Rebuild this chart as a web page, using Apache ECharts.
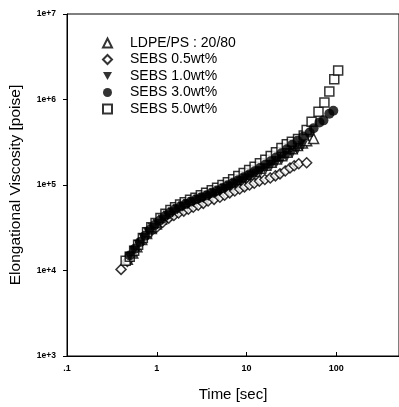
<!DOCTYPE html>
<html><head><meta charset="utf-8">
<script src="https://cdn.jsdelivr.net/npm/echarts@6/dist/echarts.min.js"></script>
<style>html,body{margin:0;padding:0;background:#fff}#c{width:399px;height:407px}</style>
</head><body><div id="c"></div>
<script>
// ---- data (time in sec, elongational viscosity in poise) ----
const seriesNames = ['LDPE/PS : 20/80', 'SEBS 0.5wt%', 'SEBS 1.0wt%', 'SEBS 3.0wt%', 'SEBS 5.0wt%'];

const ldpeTime = [0.47,0.54,0.6,0.68,0.77,0.87,0.99,1.13,1.28,1.46,1.66,1.9,2.17,2.48,2.85,3.25,3.7,4.25,4.85,5.55,6.35,7.25,8.3,9.5,10.9,12.5,14.3,16.4,18.8,21.5,24.6,28.2,32.3,37,42,46.8,55.9];
const ldpeVisc = [1.35e4,1.6e4,1.9e4,2.3e4,2.7e4,3.1e4,3.5e4,4.0e4,4.45e4,4.9e4,5.3e4,5.7e4,6.1e4,6.5e4,6.9e4,7.3e4,7.7e4,8.2e4,8.7e4,9.3e4,1.0e5,1.07e5,1.15e5,1.24e5,1.34e5,1.45e5,1.57e5,1.7e5,1.85e5,2.02e5,2.2e5,2.42e5,2.65e5,2.9e5,3.1e5,3.3e5,3.5e5];

const sebs05Time = [0.40,0.47,0.53,0.58,0.63,0.70,0.78,0.88,1.0,1.16,1.36,1.55,1.75,2.0,2.25,2.55,2.9,3.3,3.73,4.35,5.05,5.7,6.5,7.4,8.4,9.5,10.8,12.2,13.9,16.0,18.4,21.0,23.6,27.0,30.5,34.0,38.2,46.8];
const sebs05Visc = [1.03e4,1.28e4,1.54e4,1.78e4,2.02e4,2.32e4,2.65e4,2.95e4,3.2e4,3.65e4,4.1e4,4.4e4,4.7e4,4.95e4,5.2e4,5.5e4,5.8e4,6.1e4,6.5e4,6.8e4,7.2e4,7.6e4,8.1e4,8.5e4,9.0e4,9.5e4,1.0e5,1.05e5,1.11e5,1.16e5,1.21e5,1.28e5,1.35e5,1.46e5,1.58e5,1.68e5,1.77e5,1.82e5];

const sebs10Time = [0.5,0.56,0.63,0.71,0.8,0.9,1.02,1.16,1.32,1.5,1.7,1.95,2.22,2.55,2.9,3.3,3.8,4.35,5.0,5.7,6.5,7.45,8.5,9.7,11.1,12.7,14.5,16.6,19,21.7,24.8,28.4,32.5,37,42];
const sebs10Visc = [1.45e4,1.7e4,2.0e4,2.4e4,2.8e4,3.15e4,3.5e4,3.95e4,4.4e4,4.8e4,5.2e4,5.6e4,5.95e4,6.3e4,6.7e4,7.0e4,7.4e4,7.9e4,8.4e4,9.0e4,9.6e4,1.03e5,1.1e5,1.18e5,1.27e5,1.36e5,1.46e5,1.57e5,1.7e5,1.84e5,2.0e5,2.18e5,2.38e5,2.6e5,2.85e5];

const sebs30Time = [0.5,0.57,0.65,0.74,0.84,0.95,1.08,1.23,1.4,1.6,1.83,2.1,2.4,2.75,3.15,3.6,4.1,4.7,5.4,6.2,7.1,8.1,9.3,10.7,12.3,14.1,16.2,18.6,21.3,24.5,28.1,32.3,37,43,50.5,55.9,65,72,83.7,92.7];
const sebs30Visc = [1.5e4,1.8e4,2.15e4,2.55e4,3.0e4,3.4e4,3.85e4,4.3e4,4.75e4,5.2e4,5.6e4,6.0e4,6.4e4,6.8e4,7.2e4,7.6e4,8.1e4,8.6e4,9.2e4,9.9e4,1.06e5,1.14e5,1.23e5,1.33e5,1.45e5,1.58e5,1.73e5,1.9e5,2.1e5,2.35e5,2.62e5,2.95e5,3.3e5,3.7e5,4.1e5,4.6e5,5.4e5,5.7e5,6.8e5,7.4e5];

const sebs50Time = [0.45,0.5,0.56,0.62,0.7,0.78,0.87,0.97,1.1,1.25,1.42,1.6,1.82,2.05,2.35,2.7,3.1,3.55,4.1,4.7,5.4,6.2,7.1,8.1,9.3,10.7,12.3,14.1,16.2,18.6,21.3,24.5,28.1,32,37.5,43.4,46.8,53.1,63.4,73.8,83.7,95,105];
const sebs50Visc = [1.3e4,1.45e4,1.7e4,2.0e4,2.4e4,2.8e4,3.2e4,3.6e4,4.1e4,4.6e4,5.1e4,5.5e4,5.9e4,6.3e4,6.7e4,7.1e4,7.6e4,8.1e4,8.7e4,9.3e4,1.0e5,1.08e5,1.17e5,1.27e5,1.38e5,1.5e5,1.64e5,1.8e5,1.98e5,2.18e5,2.42e5,2.7e5,3.0e5,3.2e5,3.45e5,3.8e5,4.4e5,5.5e5,7.2e5,9.2e5,1.24e6,1.72e6,2.19e6];

const xTickLabels = {'0.1': '.1', '1': '1', '10': '10', '100': '100'};

// ---- chart ----
function pairs(t, v) { return t.map((x, i) => [x, v[i]]); }
const invTri = 'path://M0,0L10,0L5,9Z';
const openStyle = {color: '#ffffff', borderColor: '#000000', borderWidth: 1.5};
const fillStyle = {color: '#000000', borderColor: '#000000', borderWidth: 0};

const defs = [
  {name: seriesNames[0], data: pairs(ldpeTime, ldpeVisc), symbol: 'triangle', style: openStyle, size: 10, z: 2},
  {name: seriesNames[1], data: pairs(sebs05Time, sebs05Visc), symbol: 'diamond', style: openStyle, size: 10, z: 2},
  {name: seriesNames[2], data: pairs(sebs10Time, sebs10Visc), symbol: invTri, style: fillStyle, size: 10, z: 3},
  {name: seriesNames[3], data: pairs(sebs30Time, sebs30Visc), symbol: 'circle', style: fillStyle, size: 10, z: 3},
  {name: seriesNames[4], data: pairs(sebs50Time, sebs50Visc), symbol: 'rect', style: openStyle, size: 9, z: 2}
];

const chart = echarts.init(document.getElementById('c'), null, {renderer: 'canvas'});
const font = 'Liberation Sans, Arial, sans-serif';
chart.setOption({
  animation: false,
  backgroundColor: '#ffffff',
  grid: {left: 67, top: 14, right: -5, bottom: 50, show: true, borderColor: '#000', borderWidth: 1},
  legend: {
    orient: 'vertical', left: 97, top: 31,
    itemWidth: 9, itemHeight: 9, itemGap: 2.5,
    data: seriesNames,
    textStyle: {fontFamily: font, fontSize: 14, color: '#000', lineHeight: 14, padding: [0, 0, 0, 13]}
  },
  xAxis: {
    type: 'log', logBase: 10, min: 0.1, max: 500,
    name: 'Time [sec]', nameLocation: 'middle', nameGap: 31,
    nameTextStyle: {fontFamily: font, fontSize: 15, color: '#000'},
    axisLine: {lineStyle: {color: '#000', width: 1}},
    axisTick: {inside: true, length: 4, lineStyle: {color: '#000'}},
    minorTick: {show: false}, splitLine: {show: false},
    axisLabel: {
      fontFamily: font, fontSize: 9, fontWeight: 'bold', color: '#000', margin: 8, showMaxLabel: false,
      formatter: v => { const k = String(Math.round(v * 10) / 10); return xTickLabels[k] !== undefined ? xTickLabels[k] : ''; }
    }
  },
  yAxis: {
    type: 'log', logBase: 10, min: 1000, max: 1e7,
    name: 'Elongational Viscosity [poise]', nameLocation: 'middle', nameGap: 43,
    nameTextStyle: {fontFamily: font, fontSize: 15.5, color: '#000'},
    axisLine: {lineStyle: {color: '#000', width: 1}},
    axisTick: {inside: false, length: 4, lineStyle: {color: '#000'}},
    minorTick: {show: false}, splitLine: {show: false},
    axisLabel: {
      fontFamily: font, fontSize: 8.5, fontWeight: 'bold', color: '#000', margin: 11,
      formatter: v => '1e+' + Math.round(Math.log10(v))
    }
  },
  series: defs.map(d => ({
    type: 'scatter', name: d.name, data: d.data, z: d.z,
    symbol: d.symbol, symbolSize: d.size, itemStyle: d.style,
    emphasis: {disabled: true}
  }))
});
</script></body></html>
